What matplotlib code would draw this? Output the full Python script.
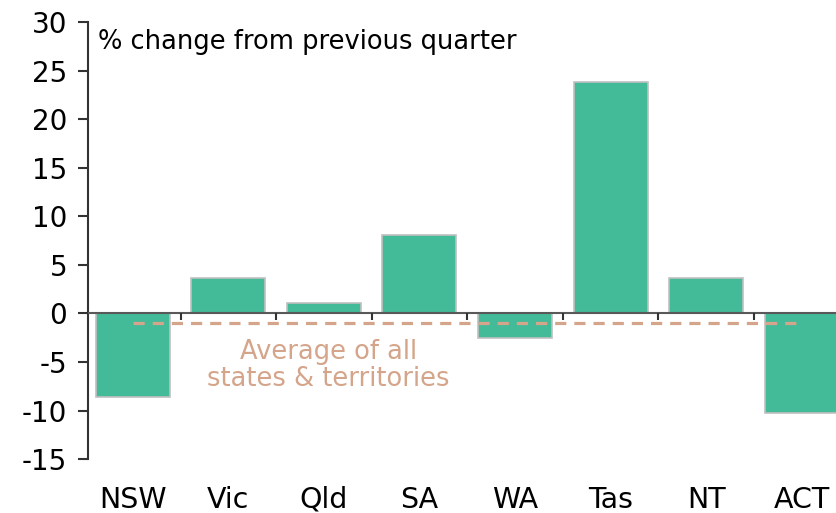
import numpy as np
import matplotlib.pyplot as plt

# Quarterly change by state / territory
states = ['NSW', 'Vic', 'Qld', 'SA', 'WA', 'Tas', 'NT', 'ACT']
change = [-8.6, 3.7, 1.1, 8.1, -2.5, 23.8, 3.6, -10.2]
average = -1.0

bar_color = '#43BA98'
avg_color = '#D4A58A'

plt.rcParams['font.family'] = 'DejaVu Sans'
plt.rcParams['axes.unicode_minus'] = False

fig = plt.figure(figsize=(8.37, 5.13), dpi=100)
ax = fig.add_axes([0.105, 0.105, 0.895, 0.852])

x = np.arange(len(states))
ax.bar(x, change, width=0.775, color=bar_color, edgecolor='#C0C0C0',
       linewidth=1.2, zorder=2)

# zero line with category separators
ax.axhline(0, color='#595959', linewidth=1.5, zorder=3)
ax.vlines(x[:-1] + 0.5, -0.72, 0, color='#333333', linewidth=1.5, zorder=3)

# average line
ax.plot([x[0], x[-1]], [average, average], color=avg_color, linewidth=2.3,
        dashes=(3.5, 2.5), zorder=4)
ax.text(2.05, -5.4, 'Average of all\nstates & territories', color=avg_color,
        fontsize=18.5, ha='center', va='center', linespacing=1.05)

ax.set_ylim(-15, 30)
ax.set_yticks(np.arange(-15, 31, 5))
ax.set_xlim(-0.47, 7.37)
ax.set_xticks(x)
ax.set_xticklabels(states)

ax.tick_params(axis='y', direction='out', length=7, width=1.5, labelsize=20,
               pad=8, color='#333333')
ax.tick_params(axis='x', length=0, labelsize=20.5, pad=19)

for s in ['top', 'right', 'bottom']:
    ax.spines[s].set_visible(False)
ax.spines['left'].set_color('#333333')
ax.spines['left'].set_linewidth(1.5)

ax.text(0.014, 0.985, '% change from previous quarter', transform=ax.transAxes,
        fontsize=18.5, ha='left', va='top')

plt.savefig('out.png', dpi=100)
